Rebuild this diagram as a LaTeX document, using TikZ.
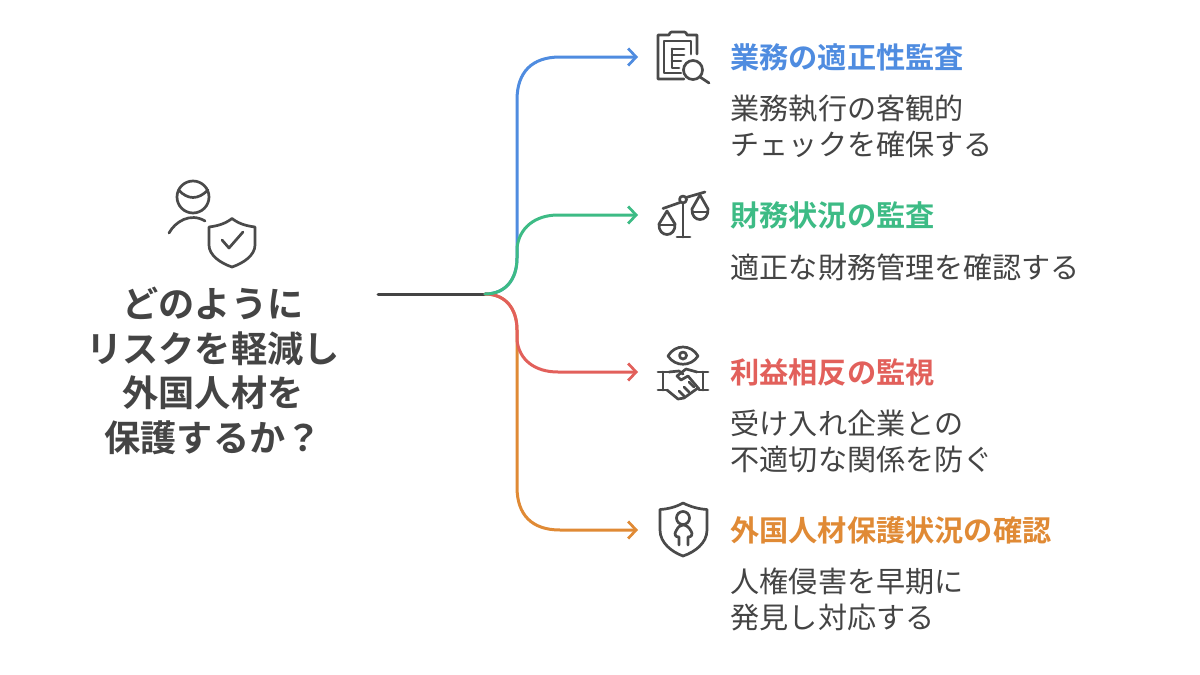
\documentclass[tikz,border=0pt]{standalone}
\usepackage{fontspec}
\usetikzlibrary{arrows.meta}
\setmainfont{Noto Sans CJK JP}
\newfontfamily\jpb{Noto Sans CJK JP Bold}
\definecolor{cblue}{HTML}{4F8CE0}
\definecolor{cgreen}{HTML}{3DBB85}
\definecolor{cred}{HTML}{E2605B}
\definecolor{corange}{HTML}{E08A35}
\definecolor{cink}{HTML}{444444}
\definecolor{cicon}{HTML}{4A4A4A}
\tikzset{
  x=1pt,y=-1pt,
  conn/.style={line width=3pt,line cap=round,-{Straight Barb[length=8pt,width=17pt,line width=2.7pt]}},
  stem/.style={line width=3pt,color=cink,line cap=round},
  head/.style={anchor=west,inner sep=0pt,font=\jpb\fontsize{29.2}{29.2}\selectfont},
  body/.style={anchor=west,inner sep=0pt,align=left,text=cink,font=\fontsize{29.1}{35.5}\selectfont},
  root/.style={align=center,inner sep=0pt,text=cink,font=\jpb\fontsize{36.2}{44.7}\selectfont},
  ico/.style={line width=2.7pt,color=cicon,line cap=round,line join=round},
}
\begin{document}
\begin{tikzpicture}
\useasboundingbox (0,0) rectangle (1200,675);
\fill[white] (0,0) rectangle (1200,675);
\coordinate (start) at (378,294);
\coordinate (hub) at (485,294);
\coordinate (endA) at (638,57);
\coordinate (endB) at (638,215);
\coordinate (endC) at (638,372);
\coordinate (endD) at (638,530);
% connectors
\draw[stem] (start) -- (hub);
\draw[conn,cblue] (hub) .. controls (505,294) and (517,280) .. (517,258) -- (517,100) .. controls (517,72) and (532,57) .. (560,57) -- (endA);
\draw[conn,corange] (hub) .. controls (505,294) and (517,308) .. (517,330) -- (517,487) .. controls (517,515) and (532,530) .. (560,530) -- (endD);
\draw[conn,cred] (hub) .. controls (505,294) and (517,308) .. (517,330) -- (517,340) .. controls (519,360) and (535,372) .. (558,372) -- (endC);
\draw[conn,cgreen] (hub) .. controls (505,294) and (517,280) .. (517,258) -- (517,248) .. controls (519,228) and (535,215) .. (558,215) -- (endB);
% texts
\node[root] (question) at (213,371) {どのように\\リスクを軽減し\\外国人材を\\保護するか？};
\node[head,text=cblue] (h1) at (730,57) {業務の適正性監査};
\node[body] (b1) at (730.5,126.5) {業務執行の客観的\\チェックを確保する};
\node[head,text=cgreen] (h2) at (730,215) {財務状況の監査};
\node[body] (b2) at (730.5,267) {適正な財務管理を確認する};
\node[head,text=cred] (h3) at (730,372) {利益相反の監視};
\node[body] (b3) at (730.5,441.5) {受け入れ企業との\\不適切な関係を防ぐ};
\node[head,text=corange] (h4) at (730,530) {外国人材保護状況の確認};
\node[body] (b4) at (730.5,599.5) {人権侵害を早期に\\発見し対応する};
% person with shield
\draw[ico] (193,197) circle (16);
\draw[ico] (178.5,190) .. controls (188,200) and (198,200) .. (208,190);
\draw[ico] (169,233) .. controls (175,222) and (190,212) .. (205,221);
\draw[ico] (232,218.5) .. controls (225,224) and (217,226) .. (209,227) -- (209,245) .. controls (209,255) and (220,263) .. (232,267) .. controls (244,263) and (255,255) .. (255,245) -- (255,227) .. controls (247,226) and (239,224) .. (232,218.5) -- cycle;
\draw[ico] (222,240) -- (229,248) -- (243,232);
% clipboard
\draw[ico] (697,54) -- (697,35) -- (687,35) .. controls (686,31) and (684,32) .. (678,32) .. controls (672,32) and (670,31) .. (669,35) -- (658,35) -- (658,79) -- (684,79);
\draw[ico] (691,54) -- (691,41) -- (664,41) -- (664,73) -- (681,73);
\draw[ico] (672,49) -- (672,68) -- (679,68);
\draw[ico] (672,49) -- (684,49);
\draw[ico] (672,55) -- (684,55);
\draw[ico] (672,61) -- (681,61);
\draw[ico] (693,70) circle (9.5);
\draw[ico] (700,77) -- (709,83);
% scales
\draw[ico] (663,208.5) -- (680,202.5);
\draw[ico] (686,197.5) -- (705,192);
\draw[ico] (683,199.5) circle (3.5);
\draw[ico] (683,203) -- (683,237);
\draw[ico] (677,237) -- (690,237);
\draw[ico] (667,211) -- (659,224) .. controls (658,238) and (676,238) .. (675,224) -- cycle;
\draw[ico] (660,225) -- (674,225);
\draw[ico] (700,195) -- (692,209) .. controls (691,223) and (709,223) .. (708,209) -- cycle;
\draw[ico] (693,212) -- (707,212);
% eye and handshake
\draw[ico] (668,356) .. controls (675,344) and (691,344) .. (698,356) .. controls (691,367) and (675,367) .. (668,356) -- cycle;
\draw[ico] (683,355.5) circle (3.5);
\draw[ico] (658,372) -- (669,372) (658,390) -- (667,390) (663,372) -- (663,390);
\draw[ico] (697,372) -- (708,372) (699,390) -- (708,390) (703,372) -- (703,390);
\draw[ico] (669,372) -- (679,371) -- (683,374) (667,390) -- (678,399) -- (684,398) -- (698,388);
\draw[ico] (697,372) -- (686,369) -- (677,376) -- (681,380) -- (688,376) -- (699,389);
\draw[ico] (679,391) -- (684,396) (684,387) -- (689,392) (689,382) -- (694,387);
% shield with person
\draw[ico] (683,503) .. controls (676,507) and (668,509) .. (660,509.5) -- (660,530) .. controls (660,543) and (672,552) .. (683,556) .. controls (695,552) and (707,543) .. (707,530) -- (707,509.5) .. controls (699,509) and (691,507) .. (683,503) -- cycle;
\draw[ico] (683,518) circle (6.5);
\draw[ico] (679,545) -- (679,537) .. controls (675,537) and (674,534) .. (676,531) .. controls (678,527) and (680,525) .. (683,525) .. controls (686,525) and (689,527) .. (691,531) .. controls (693,534) and (692,537) .. (688,537) -- (688,545);
\end{tikzpicture}
\end{document}
